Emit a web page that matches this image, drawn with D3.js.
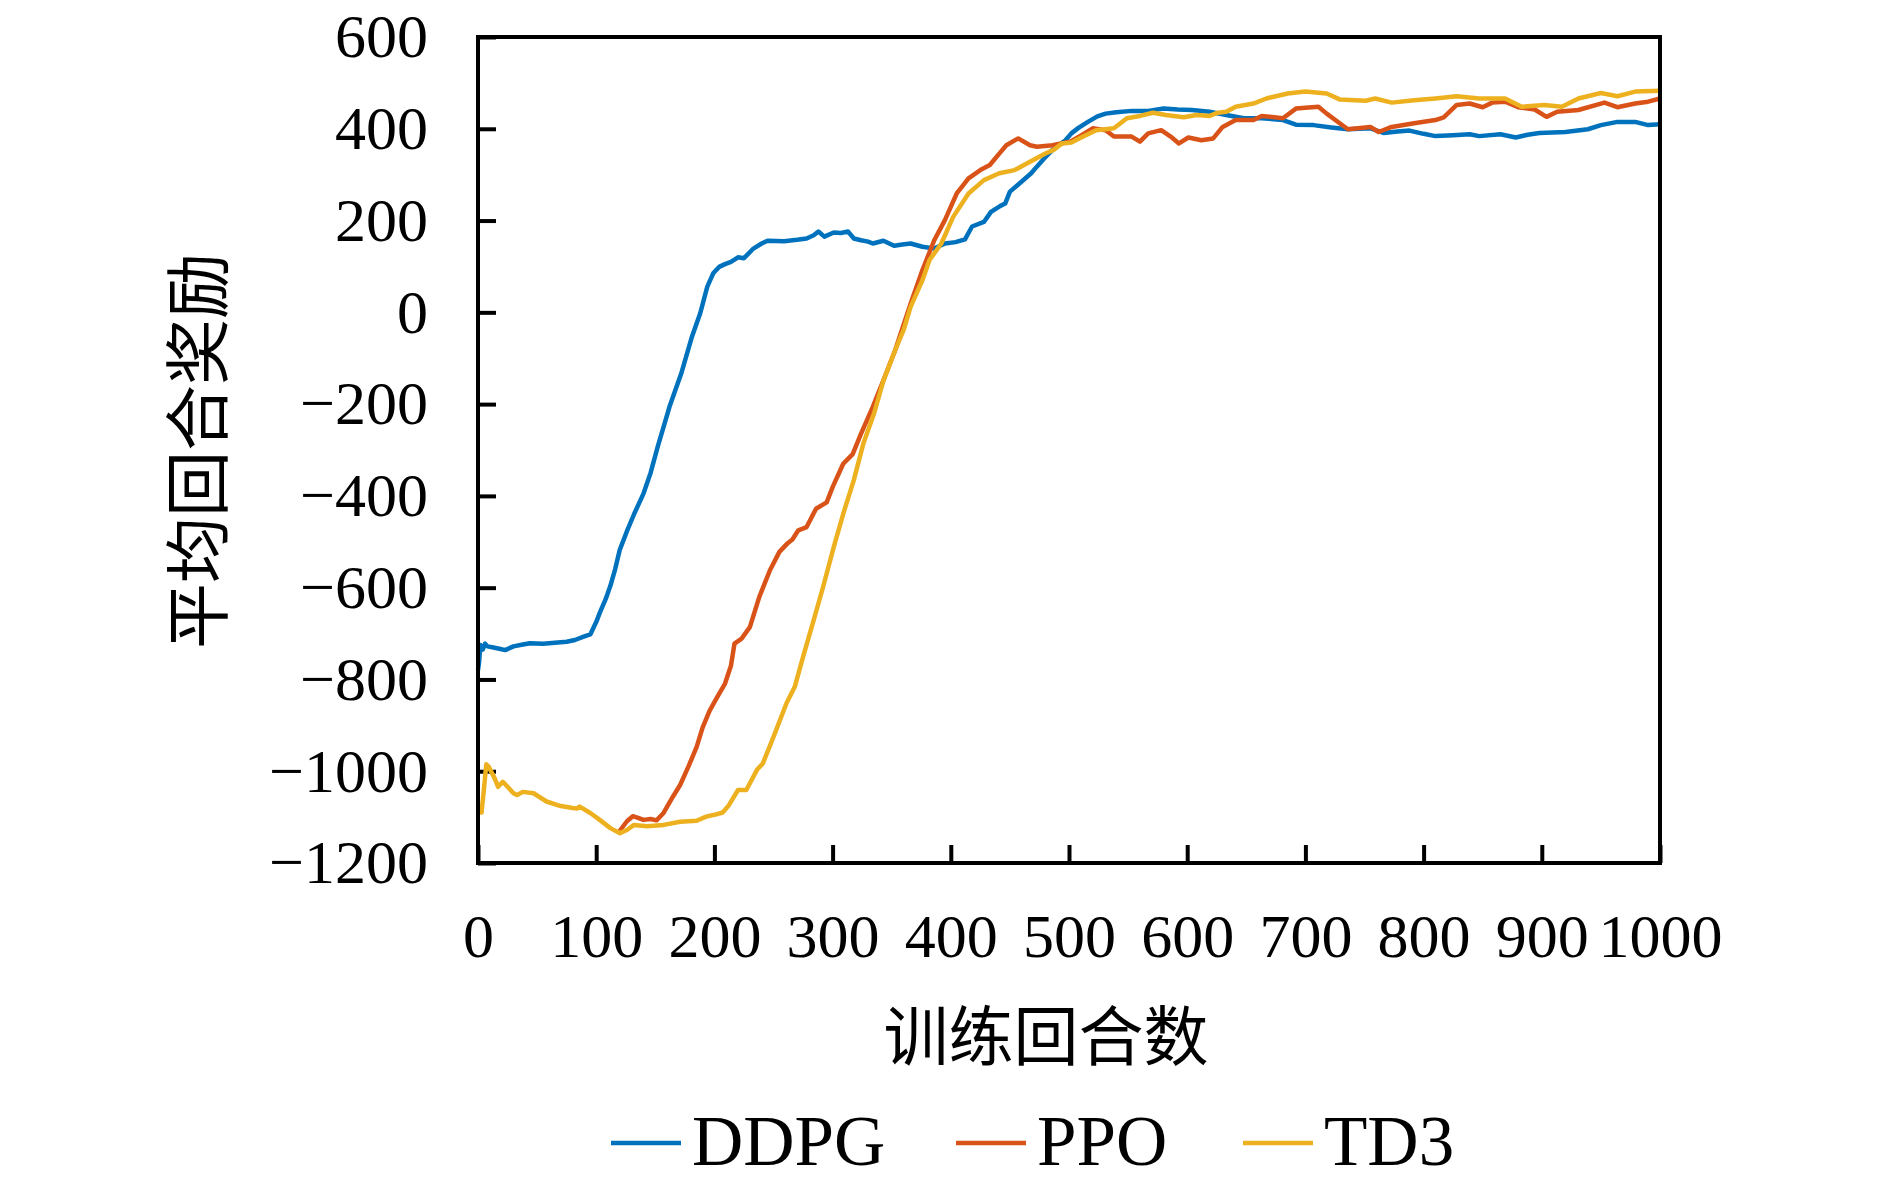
<!DOCTYPE html>
<html>
<head>
<meta charset="utf-8">
<script src="https://cdn.jsdelivr.net/npm/d3@7"></script>
<style>
  body { margin: 0; background: #fff; }
  .tick text { font-family: "Liberation Serif", "DejaVu Serif", serif; }
</style>
</head>
<body>
<div id="chart"></div>
<script>
// data
var seriesNames = ["DDPG", "PPO", "TD3"];
var seriesColors = ["#0072BD", "#D95319", "#EDB120"];

var ddpgX = [0, 1, 2, 4, 6, 8, 12, 18, 23, 30, 38, 44, 55, 65, 75, 82, 90, 95, 100, 103, 108, 112, 116, 120, 126, 132, 140, 146, 152, 162, 172, 181, 188, 194, 199, 204, 209, 214, 220, 225, 233, 240, 245, 259, 270, 278, 284, 288, 293, 301, 307, 313, 318, 324, 330, 334, 343, 352, 359, 366, 376, 386, 395, 404, 412, 418, 428, 434, 442, 446, 450, 460, 468, 473, 479, 486, 497, 502, 508, 516, 524, 531, 540, 553, 567, 580, 592, 604, 619, 633, 648, 663, 681, 692, 707, 722, 736, 755, 766, 778, 788, 800, 810, 825, 839, 847, 865, 878, 888, 898, 920, 939, 950, 964, 979, 990, 1000];
var ddpgY = [-780, -760, -725, -735, -722, -728, -730, -733, -736, -728, -724, -721, -722, -720, -718, -714, -706, -702, -675, -655, -625, -596, -560, -517, -477, -440, -395, -350, -293, -206, -133, -53, -2, 56, 85, 99, 105, 110, 120, 118, 139, 150, 156, 155, 158, 161, 168, 176, 165, 174, 173, 176, 161, 157, 154, 150, 156, 145, 148, 150, 143, 139, 150, 153, 159, 187, 197, 219, 232, 237, 263, 285, 303, 318, 335, 354, 375, 390, 402, 415, 427, 433, 436, 439, 439, 444, 442, 441, 437, 430, 423, 423, 419, 409, 408, 403, 399, 401, 391, 394, 396, 389, 384, 386, 388, 384, 388, 381, 387, 391, 393, 399, 408, 415, 415, 408, 410];

var ppoX = [119, 126, 131, 136, 140, 146, 151, 157, 165, 171, 178, 185, 190, 196, 202, 209, 214, 217, 223, 230, 238, 247, 255, 262, 266, 271, 278, 286, 295, 300, 309, 317, 324, 334, 343, 353, 366, 376, 386, 395, 405, 415, 425, 433, 441, 447, 457, 467, 473, 486, 501, 510, 520, 531, 538, 553, 560, 567, 578, 586, 593, 601, 612, 622, 630, 641, 656, 663, 681, 692, 711, 718, 729, 736, 755, 762, 773, 792, 810, 817, 828, 839, 850, 858, 869, 880, 894, 904, 913, 931, 953, 964, 979, 990, 1000];
var ppoY = [-1133, -1109, -1098, -1102, -1106, -1104, -1107, -1091, -1055, -1030, -990, -947, -905, -868, -840, -809, -770, -722, -711, -686, -620, -562, -522, -503, -495, -475, -468, -428, -414, -381, -330, -309, -265, -206, -148, -82, 19, 92, 157, 201, 259, 292, 310, 321, 346, 364, 379, 364, 361, 364, 372, 385, 401, 397, 383, 383, 372, 390, 397, 383, 368, 381, 375, 379, 404, 419, 419, 428, 423, 444, 448, 433, 412, 399, 404, 393, 404, 412, 419, 425, 452, 455, 447, 457, 459, 447, 442, 426, 437, 441, 457, 447, 455, 459, 466];

var td3X = [0, 3, 5, 7, 9, 14, 17, 21, 25, 30, 33, 38, 47, 58, 70, 80, 84, 86, 95, 103, 112, 120, 126, 132, 143, 157, 171, 185, 193, 200, 207, 212, 220, 227, 236, 241, 250, 261, 268, 275, 284, 292, 301, 309, 318, 326, 335, 343, 353, 360, 366, 376, 382, 392, 402, 415, 428, 441, 454, 467, 480, 487, 494, 502, 512, 523, 538, 549, 560, 571, 582, 597, 608, 619, 626, 633, 641, 656, 667, 685, 700, 718, 729, 751, 759, 773, 792, 810, 828, 847, 869, 883, 902, 917, 931, 950, 964, 979, 1000];
var td3Y = [-1085, -1090, -1040, -985, -990, -1015, -1034, -1023, -1034, -1048, -1052, -1045, -1048, -1066, -1076, -1080, -1081, -1077, -1091, -1106, -1124, -1135, -1128, -1117, -1120, -1117, -1110, -1108, -1099, -1095, -1090, -1075, -1041, -1041, -997, -983, -925, -852, -816, -751, -671, -598, -511, -439, -365, -286, -221, -149, -82, -39, 12, 70, 114, 150, 208, 259, 288, 303, 310, 328, 346, 354, 368, 370, 383, 397, 401, 423, 428, 435, 430, 425, 430, 428, 435, 437, 448, 455, 466, 477, 481, 477, 464, 461, 466, 457, 462, 466, 471, 466, 466, 448, 452, 448, 466, 478, 471, 481, 483];

var xTicks = [0, 100, 200, 300, 400, 500, 600, 700, 800, 900, 1000];
var yTicks = [-1200, -1000, -800, -600, -400, -200, 0, 200, 400, 600];

var svgWidth = 1890;
var svgHeight = 1183;

var margin = {
  top: 37,
  right: 230,
  bottom: 320,
  left: 478
};

var width = svgWidth - margin.left - margin.right;
var height = svgHeight - margin.top - margin.bottom;

var svg = d3.select("#chart")
  .append("svg")
  .attr("width", svgWidth)
  .attr("height", svgHeight);

var chartGroup = svg.append("g")
  .attr("transform", `translate(${margin.left}, ${margin.top})`);

var xLinearScale = d3.scaleLinear()
  .domain([0, 1000])
  .range([0, width]);

var yLinearScale = d3.scaleLinear()
  .domain([-1200, 600])
  .range([height, 0]);

//axis
var bottomAxis = d3.axisBottom(xLinearScale)
  .tickValues(xTicks)
  .tickSizeInner(-18)
  .tickSizeOuter(0)
  .tickPadding(50)
  .tickFormat(d3.format("d"));

var leftAxis = d3.axisLeft(yLinearScale)
  .tickValues(yTicks)
  .tickSizeInner(-18)
  .tickSizeOuter(0)
  .tickPadding(50)
  .tickFormat(d => d < 0 ? "\u2212" + Math.abs(d) : String(d));

var xAxisG = chartGroup.append("g")
  .attr("transform", `translate(0, ${height})`)
  .call(bottomAxis);

var yAxisG = chartGroup.append("g")
  .call(leftAxis);

[xAxisG, yAxisG].forEach(function(g) {
  g.select(".domain").remove();
  g.selectAll(".tick line")
    .attr("stroke", "#000")
    .attr("stroke-width", 4);
  g.selectAll(".tick text")
    .attr("fill", "#000")
    .attr("font-size", 62);
});

var series = [
  { name: seriesNames[0], color: seriesColors[0], xs: ddpgX, ys: ddpgY },
  { name: seriesNames[1], color: seriesColors[1], xs: ppoX, ys: ppoY },
  { name: seriesNames[2], color: seriesColors[2], xs: td3X, ys: td3Y }
];

var line = d3.line()
  .x(d => xLinearScale(d[0]))
  .y(d => yLinearScale(d[1]));

chartGroup.selectAll(".series")
  .data(series)
  .enter()
  .append("path")
  .attr("class", "series")
  .attr("fill", "none")
  .attr("stroke", d => d.color)
  .attr("stroke-width", 4.5)
  .attr("stroke-linejoin", "round")
  .attr("d", d => line(d.xs.map((x, i) => [x, d.ys[i]])));

// frame
chartGroup.append("rect")
  .attr("x", 0)
  .attr("y", 0)
  .attr("width", width)
  .attr("height", height)
  .attr("fill", "none")
  .attr("stroke", "#000")
  .attr("stroke-width", 4);

//axes labels
svg.append("text")
  .attr("x", 1046)
  .attr("y", 1060)
  .attr("text-anchor", "middle")
  .attr("font-family", "'Noto Sans CJK SC', sans-serif")
  .attr("font-size", 65)
  .attr("fill", "#000")
  .text("训练回合数");

svg.append("text")
  .attr("transform", "translate(222, 451) rotate(-90)")
  .attr("x", 0)
  .attr("y", 0)
  .attr("text-anchor", "middle")
  .attr("font-family", "'Noto Sans CJK SC', sans-serif")
  .attr("font-size", 66)
  .attr("fill", "#000")
  .text("平均回合奖励");

//legend
var legendX = [611, 956, 1243];
var legendGroup = svg.selectAll(".legend")
  .data(series)
  .enter()
  .append("g")
  .attr("class", "legend")
  .attr("transform", (d, i) => `translate(${legendX[i]}, 1143)`);

legendGroup.append("line")
  .attr("x1", 0)
  .attr("x2", 70)
  .attr("y1", 0)
  .attr("y2", 0)
  .attr("stroke", d => d.color)
  .attr("stroke-width", 4.5);

legendGroup.append("text")
  .attr("x", 81)
  .attr("y", 22)
  .attr("font-family", "'Liberation Serif', serif")
  .attr("font-size", 71)
  .attr("fill", "#000")
  .text(d => d.name);
</script>
</body>
</html>
